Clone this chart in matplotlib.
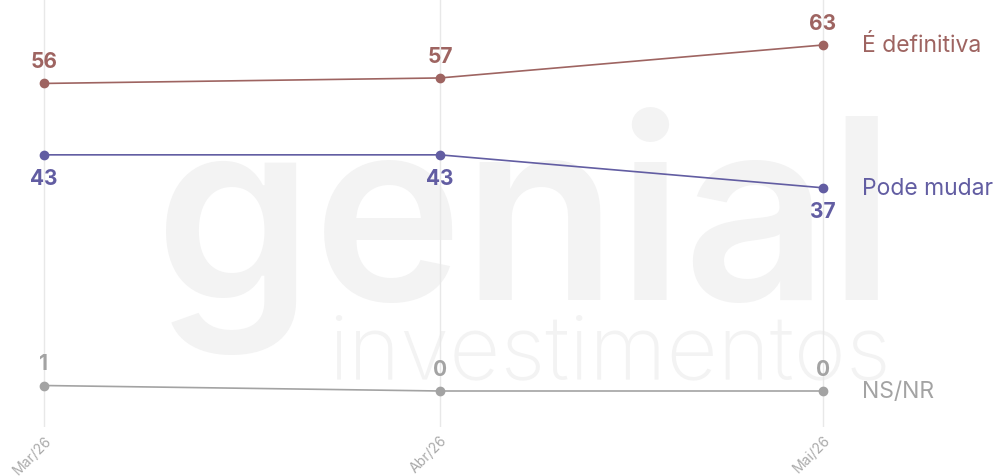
import matplotlib
matplotlib.use("Agg")
import matplotlib.pyplot as plt
import pandas as pd

plt.rcParams['font.family'] = ['Inter', 'DejaVu Sans']

dates = ["2026-03-01", "2026-04-01", "2026-05-01"]
tick_labels = ["Mar/26", "Abr/26", "Mai/26"]
series_names = ["É definitiva", "Pode mudar", "NS/NR"]
definitiva = [56, 57, 63]
pode_mudar = [43, 43, 37]
nsnr = [1, 0, 0]
colors = ["#9e6461", "#625da2", "#a3a3a3"]
label_pos = ["above", "below", "above"]

d = pd.to_datetime(dates)
x = [(v - d[0]).days for v in d]

fig = plt.figure(figsize=(9.99, 4.77), dpi=100)
H = 477.0
W = 999.0
ax = fig.add_axes([0, (H - 428) / H, 1, 428 / H])
ax.set_facecolor("none")
fig.patch.set_facecolor("white")

# watermark (drawn behind everything in the axes)
ax.text(155 / W, 1 - 300 / H, "genial", fontsize=182, fontweight="semibold",
        color="#f3f3f3", ha="left", va="baseline", zorder=0,
        transform=fig.transFigure)
ax.text(328 / W, 1 - 378 / H, "investimentos", fontsize=64, fontweight="light",
        color="#f3f3f3", ha="left", va="baseline", zorder=0,
        transform=fig.transFigure)

ppd = (823 - 44) / x[-1]
ax.set_xlim(-44 / ppd, x[-1] + (W - 823) / ppd)
ppu = (392 - 46) / 63.0
ax.set_ylim(-36 / ppu, 392 / ppu)

for xi in x:
    ax.axvline(xi, color="#e8e8e8", lw=1, zorder=1)

all_series = [definitiva, pode_mudar, nsnr]
for name, vals, c, pos in zip(series_names, all_series, colors, label_pos):
    ax.plot(x, vals, color=c, lw=1.2, marker="o", ms=6, zorder=3)
    for xi, v in zip(x, vals):
        off = 16 if pos == "above" else -17
        ax.annotate(str(v), (xi, v), xytext=(0, off), textcoords="offset points",
                    ha="center", va="center", fontsize=15, fontweight="bold",
                    color=c, zorder=4)
    ax.annotate(name, (x[-1], vals[-1]), xytext=(28, 0), textcoords="offset points",
                ha="left", va="center", fontsize=16.5, color=c, zorder=4)

ax.set_xticks(x)
ax.set_xticklabels(tick_labels, rotation=45, ha="right", va="top",
                   rotation_mode="anchor", fontsize=10, color="#aaaaaa")
ax.tick_params(axis="x", length=0, pad=4)
ax.set_yticks([])
for s in ax.spines.values():
    s.set_visible(False)

fig.savefig("out.png", dpi=100)
